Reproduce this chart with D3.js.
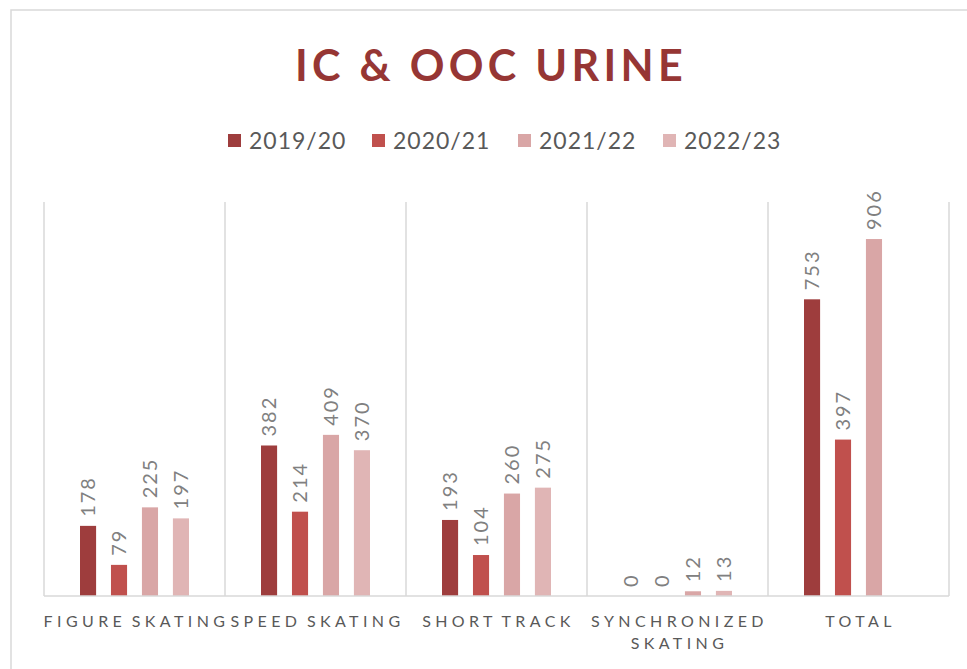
<!DOCTYPE html>
<html>
<head>
<meta charset="utf-8">
<script src="https://cdn.jsdelivr.net/npm/d3@7.9.0/dist/d3.min.js"></script>
<style>
  body { margin: 0; background: #fff; }
  svg { display: block; font-family: Lato, "Open Sans", "Noto Sans", sans-serif; }
</style>
</head>
<body>
<svg width="967" height="669"></svg>
<script>
const categories = ["FIGURE SKATING", "SPEED SKATING", "SHORT TRACK", "SYNCHRONIZED|SKATING", "TOTAL"];
const seasons = ["2019/20", "2020/21", "2021/22", "2022/23"];
const v2019 = [178, 382, 193, 0, 753];
const v2020 = [79, 214, 104, 0, 397];
const v2021 = [225, 409, 260, 12, 906];
const v2022 = [197, 370, 275, 13, null];
const colors = ["#9e3d3d", "#c0504d", "#d9a6a6", "#e0b5b5"];

const series = [v2019, v2020, v2021, v2022];

const svg = d3.select("svg");

// chart frame
svg.append("rect")
  .attr("x", 11).attr("y", 10).attr("width", 980).attr("height", 700)
  .attr("fill", "none").attr("stroke", "#d9d9d9").attr("stroke-width", 1.5);

// title
svg.append("text")
  .attr("x", 491).attr("y", 81)
  .attr("text-anchor", "middle")
  .attr("fill", "#963634")
  .attr("font-size", 43).attr("font-weight", "bold")
  .attr("letter-spacing", 4.3)
  .text("IC & OOC URINE");

// legend
const legendX = [228, 372, 518, 663];
const legend = svg.append("g");
seasons.forEach((s, i) => {
  const g = legend.append("g").attr("transform", `translate(${legendX[i]},141)`);
  g.append("rect").attr("x", 0).attr("y", -7).attr("width", 13).attr("height", 13).attr("fill", colors[i]);
  g.append("text").attr("x", 21).attr("y", 8).attr("font-size", 23).attr("fill", "#595959")
    .attr("letter-spacing", 1).text(s);
});

const x = d3.scaleBand().domain(categories).range([44, 949]).padding(0);
const xs = d3.scaleBand().domain(d3.range(4)).range([36, x.bandwidth() - 36]).paddingInner(0.48).paddingOuter(0);
const y = d3.scaleLinear().domain([0, 1000]).range([596, 202]);

// vertical separators
const seps = categories.map(c => x(c)).concat([x.range()[1]]);
svg.append("g").selectAll("line").data(seps).join("line")
  .attr("x1", d => d).attr("x2", d => d)
  .attr("y1", y(1000)).attr("y2", y(0))
  .attr("stroke", "#d9d9d9").attr("stroke-width", 1.5);

// bars
const bars = svg.append("g");
categories.forEach((c, ci) => {
  series.forEach((vals, si) => {
    const v = vals[ci];
    if (v === null) return;
    const bx = x(c) + xs(si);
    bars.append("rect")
      .attr("x", bx).attr("y", y(v))
      .attr("width", xs.bandwidth()).attr("height", y(0) - y(v))
      .attr("fill", colors[si]);
    bars.append("text")
      .attr("transform", `translate(${bx + xs.bandwidth() / 2 + 7},${y(v) - 9}) rotate(-90)`)
      .attr("font-size", 20).attr("fill", "#808080")
      .attr("letter-spacing", 2)
      .text(v);
  });
});

// baseline
svg.append("line")
  .attr("x1", 44).attr("x2", 949).attr("y1", y(0)).attr("y2", y(0))
  .attr("stroke", "#d9d9d9").attr("stroke-width", 1.5);

// x axis labels
const xl = svg.append("g");
categories.forEach(c => {
  const lines = c.split("|");
  lines.forEach((ln, li) => {
    xl.append("text")
      .attr("x", x(c) + x.bandwidth() / 2 + 2)
      .attr("y", 627 + li * 22)
      .attr("text-anchor", "middle")
      .attr("font-size", 16).attr("fill", "#595959")
      .attr("letter-spacing", 4.4)
      .attr("word-spacing", -3)
      .text(ln);
  });
});
</script>
</body>
</html>
